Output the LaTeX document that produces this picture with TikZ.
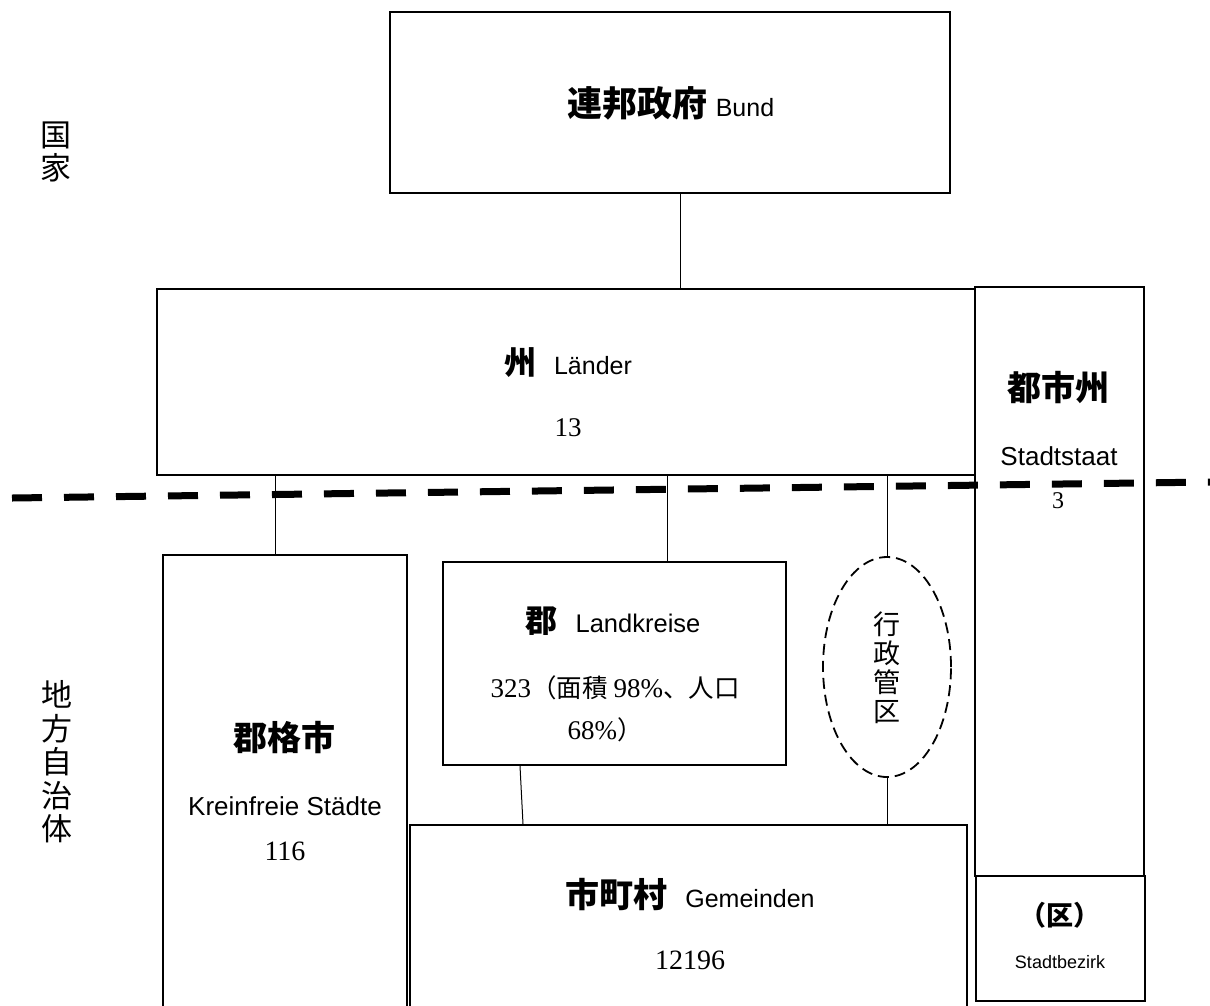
\documentclass[tikz,border=0pt]{standalone}
\usepackage{fontspec}
\setmainfont{Liberation Serif}
\setsansfont{Liberation Sans}
\newfontfamily\jp{Noto Sans CJK JP}
\usetikzlibrary{shapes.geometric,calc}
\newcommand{\fs}[1]{\fontsize{#1}{#1}\selectfont}
\newcommand{\fsb}[2]{\fontsize{#1}{#2}\selectfont\lineskiplimit=-50pt\relax}
\begin{document}
\begin{tikzpicture}[x=1pt,y=-1pt,
  bx/.style={draw, line width=2pt, rectangle, inner sep=0pt, fill=white},
  conn/.style={line width=1pt},
  lbl/.style={inner sep=0pt, align=center},
  head/.style={lbl, font=\jp\bfseries\fs{34}}]
\useasboundingbox[fill=white] (0,0) rectangle (1210,1005);

% boxes
\node[bx, minimum width=560pt, minimum height=181pt] (bund) at (670,102.5) {};
\node[bx, minimum width=818pt, minimum height=186pt] (laender) at (566,382) {};
\node[bx, minimum width=169pt, minimum height=589pt] (staat) at (1059.5,581.5) {};
\node[bx, minimum width=169pt, minimum height=125pt] (bezirk) at (1060.5,938.5) {};
\node[bx, minimum width=244pt, minimum height=457pt] (gkc) at (285,783.5) {};
\node[bx, minimum width=343pt, minimum height=203pt] (gun) at (614.5,663.5) {};
\node[ellipse, draw, dash pattern=on 11pt off 6pt, line width=1.8pt, minimum width=128pt, minimum height=220pt, inner sep=0pt] (gyosei) at (887,667) {};
\node[bx, minimum width=557pt, minimum height=195pt] (shi) at (688.5,922.5) {};

% connectors
\draw[conn] ([xshift=10pt]bund.south) -- ([xshift=10pt]bund.south |- laender.north);
\draw[conn] ([xshift=-10pt]gkc.north) -- ([xshift=-10pt]gkc.north |- laender.south);
\draw[conn] ([xshift=52.5pt]gun.north) -- ([xshift=52.5pt]gun.north |- laender.south);
\draw[conn] (gyosei.north) -- (gyosei.north |- laender.south);
\draw[conn] ([xshift=-94.5pt]gun.south) -- ([xshift=-91.5pt]gun.south |- shi.north);
\draw[conn] (gyosei.south) -- (gyosei.south |- shi.north);

% dashed boundary
\coordinate (dl) at (12,498);
\coordinate (dr) at (1212,482);
\draw[line width=7pt, dash pattern=on 30pt off 22pt] (dl) -- (dr);

% texts
\node[lbl] (tbund) at (671,103) {{\jp\bfseries\fs{35}連邦政府}\hspace{8pt}{\sffamily\fs{25}Bund}};
\node[lbl] (tland) at (568,363) {{\jp\bfseries\fs{32}州}\hspace{18pt}{\sffamily\fs{25}Länder}};
\node[lbl, font=\fs{27}] (nland) at (568,428) {13};
\node[head] (tstaat) at (1058,388) {都市州};
\node[lbl, font=\sffamily\fs{26}] (sstaat) at (1059,456) {Stadtstaat};
\node[lbl, font=\fs{24}] (nstaat) at (1058,501) {3};
\node[lbl] (tgun) at (613,621) {{\jp\bfseries\fs{32}郡}\hspace{18pt}{\sffamily\fs{25.5}Landkreise}};
\node[lbl] (ngun1) at (615,688) {{\fs{27}323}{\jp\fs{25.5}（面積}\hspace{6pt}{\fs{27}98\%}{\jp\fs{25.5}、人口}};
\node[lbl] (ngun2) at (605,730) {{\fs{27}68\%}{\jp\fs{25.5}）}};
\node[lbl, font={\jp\fsb{27}{29}}] (tgyo) at (887,668) {行\\政\\管\\区};
\node[head] (tgkc) at (284,738) {郡格市};
\node[lbl, font=\sffamily\fs{26}] (sgkc) at (285,806) {Kreinfreie Städte};
\node[lbl, font=\fs{28}] (ngkc) at (285,851) {116};
\node[lbl] (tshi) at (690,895) {{\jp\bfseries\fs{34}市町村}\hspace{18pt}{\sffamily\fs{25}Gemeinden}};
\node[lbl, font=\fs{28}] (nshi) at (690,960) {12196};
\node[lbl, font=\jp\bfseries\fs{27}] (tku) at (1060,915) {（区）};
\node[lbl, font=\sffamily\fs{18}] (sku) at (1060,962) {Stadtbezirk};
\node[lbl, font={\jp\fsb{31}{33}}] (kokka) at (56,152) {国\\家};
\node[lbl, font={\jp\fsb{31}{33.5}}] (chiho) at (57,762) {地\\方\\自\\治\\体};
\end{tikzpicture}
\end{document}
